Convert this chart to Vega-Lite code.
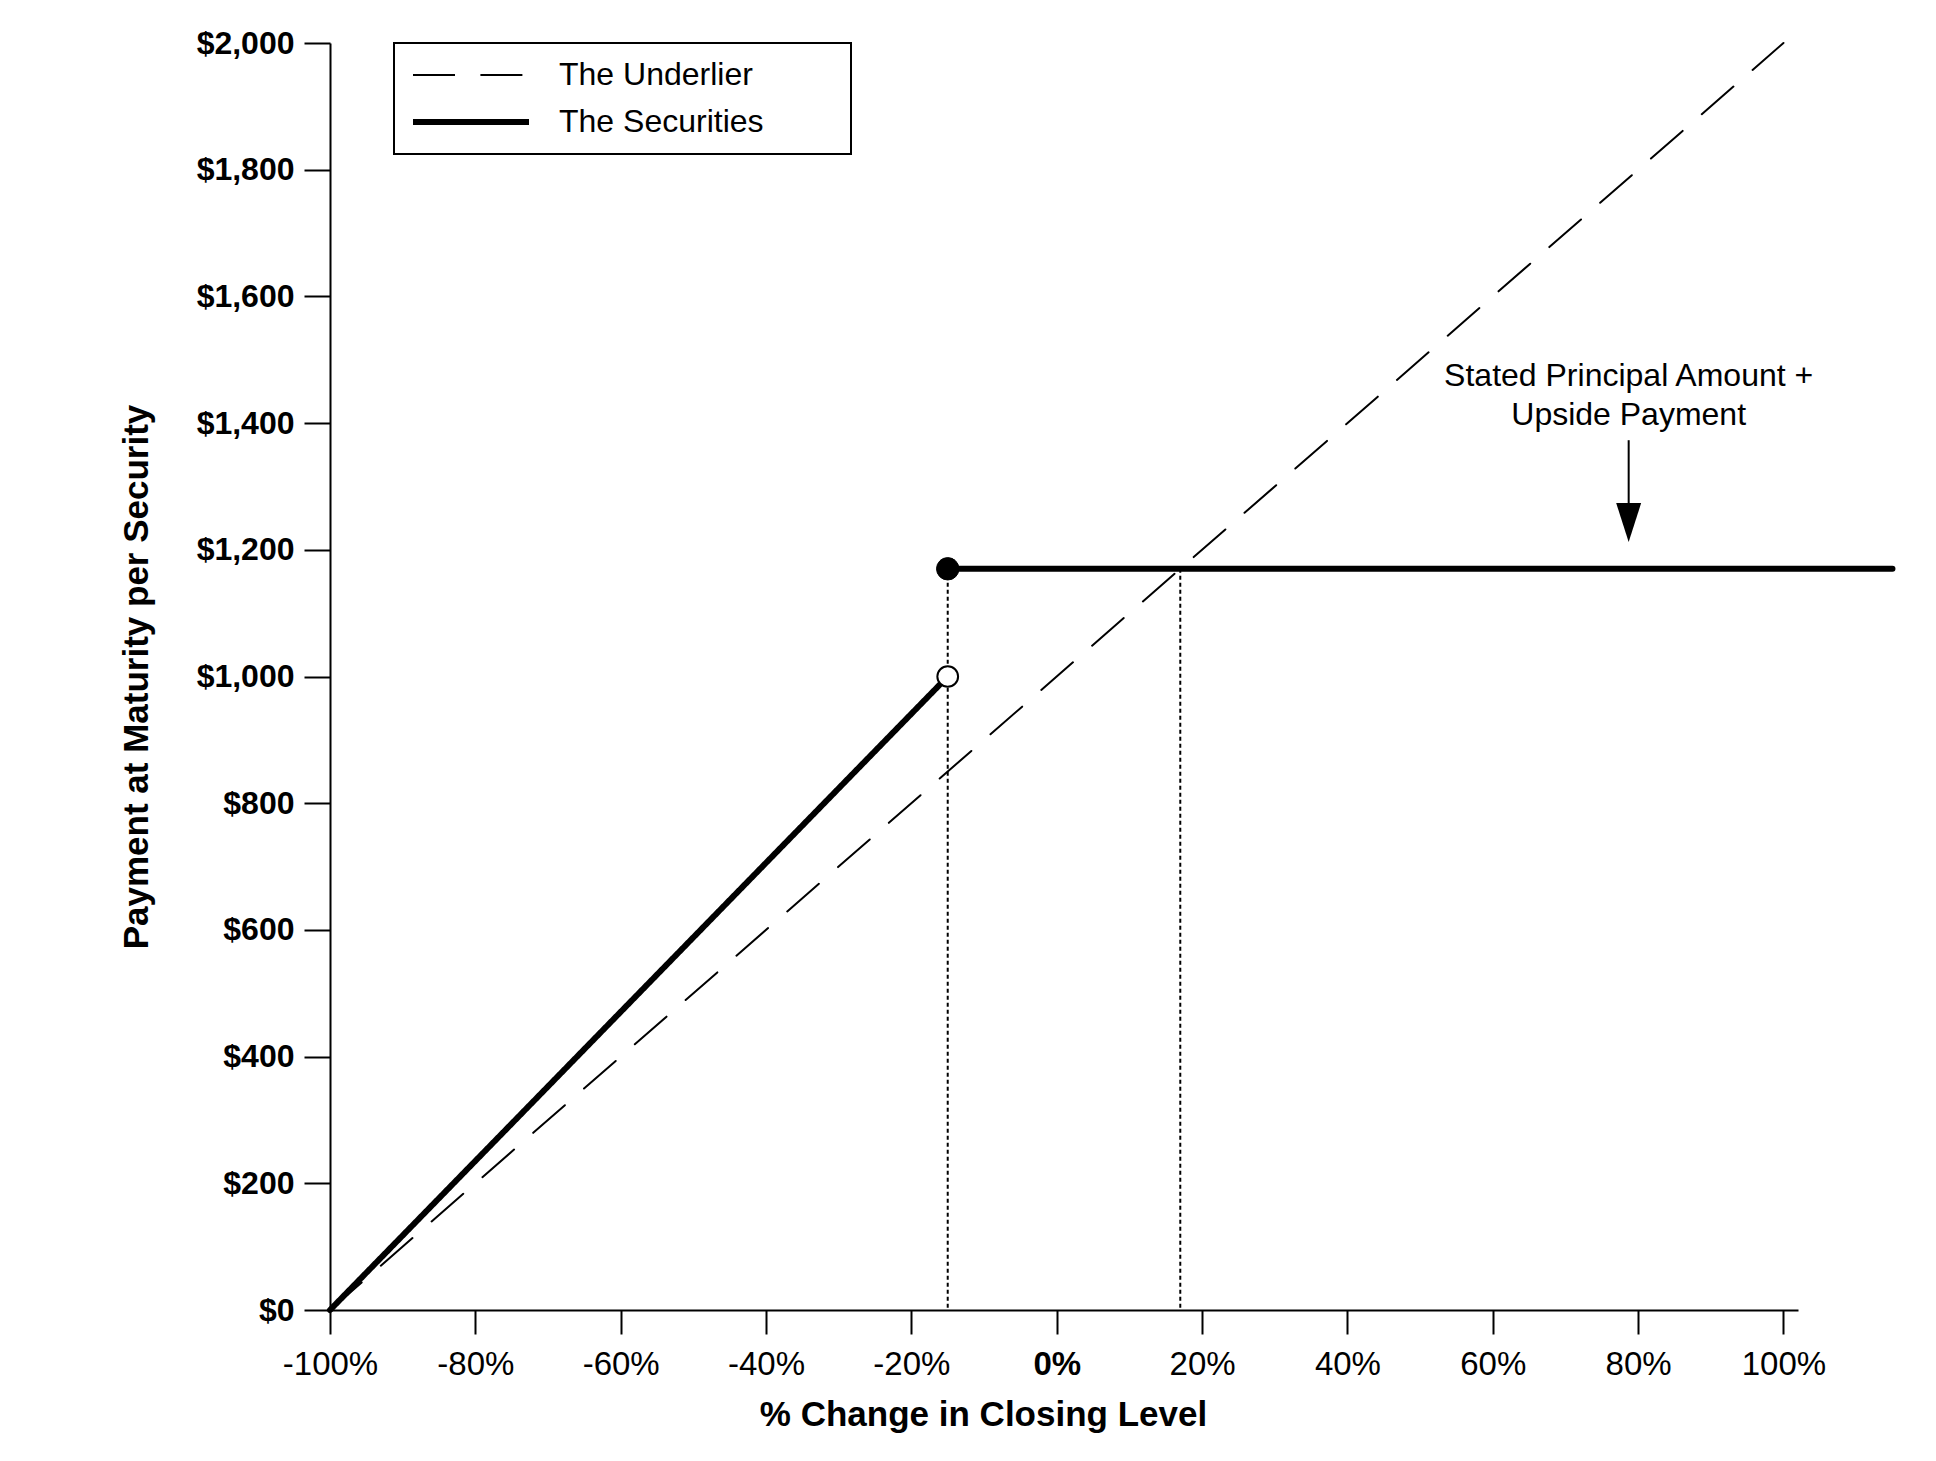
{
  "$schema": "https://vega.github.io/schema/vega-lite/v6.json",
  "width": 1468,
  "height": 1267,
  "autosize": {"type": "none"},
  "padding": {"left": 330, "top": 43, "right": 138, "bottom": 151},
  "background": "white",
  "config": {
    "view": {"stroke": null},
    "font": "Arial, Liberation Sans, sans-serif",
    "axis": {
      "grid": false,
      "domainColor": "black",
      "domainWidth": 2,
      "tickColor": "black",
      "tickWidth": 2,
      "labelColor": "black",
      "titleColor": "black",
      "labelFont": "Arial, Liberation Sans, sans-serif",
      "titleFont": "Arial, Liberation Sans, sans-serif",
      "labelFlush": false,
      "labelOverlap": false,
      "labelBound": false
    },
    "legend": {
      "labelFont": "Arial, Liberation Sans, sans-serif",
      "labelColor": "black",
      "strokeWidth": 2
    }
  },
  "datasets": {
    "lines": [
      {"series": "The Underlier", "seg": "u", "pct": -100, "payment": 0},
      {"series": "The Underlier", "seg": "u", "pct": 100, "payment": 2000},
      {"series": "The Securities", "seg": "s1", "pct": -100, "payment": 0},
      {"series": "The Securities", "seg": "s1", "pct": -15, "payment": 1000},
      {"series": "The Securities", "seg": "s2", "pct": -15, "payment": 1170},
      {"series": "The Securities", "seg": "s2", "pct": 115, "payment": 1170}
    ],
    "guides": [
      {"pct": -15, "payment": 1170},
      {"pct": 17, "payment": 1170}
    ],
    "markers": [
      {"pct": -15, "payment": 1170, "kind": "closed"},
      {"pct": -15, "payment": 1000, "kind": "open"}
    ],
    "arrow": [
      {"pct": 78.7, "payment": 1373, "end": 1262}
    ],
    "arrowhead": [
      {"pct": 78.7, "payment": 1243}
    ],
    "notes": [
      {"pct": 78.7, "payment": 1475, "text": "Stated Principal Amount +"},
      {"pct": 78.7, "payment": 1413, "text": "Upside Payment"}
    ]
  },
  "encoding": {
    "x": {
      "field": "pct",
      "type": "quantitative",
      "scale": {"domain": [-100, 102], "nice": false, "zero": false},
      "axis": {
        "title": "% Change in Closing Level",
        "values": [-100, -80, -60, -40, -20, 0, 20, 40, 60, 80, 100],
        "labelExpr": "datum.value + '%'",
        "tickSize": 24,
        "labelPadding": 14,
        "labelFontSize": 33,
        "labelFontWeight": {"condition": {"test": "datum.value === 0", "value": "bold"}, "value": "normal"},
        "titleFontSize": 35,
        "titleFontWeight": "bold",
        "titleX": 653,
        "titleY": 87,
        "titleBaseline": "top",
        "titleAlign": "center"
      }
    },
    "y": {
      "field": "payment",
      "type": "quantitative",
      "scale": {"domain": [0, 2000], "nice": false},
      "axis": {
        "title": "Payment at Maturity per Security",
        "values": [0, 200, 400, 600, 800, 1000, 1200, 1400, 1600, 1800, 2000],
        "format": "$,d",
        "tickSize": 26,
        "labelPadding": 10,
        "labelFontSize": 32,
        "labelFontWeight": "bold",
        "titleFontSize": 35,
        "titleFontWeight": "bold",
        "titleAngle": -90,
        "titleX": -176,
        "titleY": 633.5,
        "titleBaseline": "bottom",
        "titleAlign": "center"
      }
    }
  },
  "layer": [
    {
      "data": {"name": "guides"},
      "mark": {"type": "rule", "color": "black", "strokeWidth": 2, "strokeDash": [4, 3]},
      "encoding": {"y2": {"datum": 0}}
    },
    {
      "data": {"name": "lines"},
      "mark": {"type": "line", "color": "black", "strokeCap": "round"},
      "encoding": {
        "detail": {"field": "seg"},
        "strokeDash": {
          "field": "series",
          "type": "ordinal",
          "scale": {"domain": ["The Underlier", "The Securities"], "range": [[42, 25.4], [1, 0]]},
          "legend": {
            "title": null,
            "orient": "none",
            "legendX": 64,
            "legendY": 0,
            "symbolType": "stroke",
            "symbolSize": 13456,
            "symbolStrokeColor": "black",
            "clipHeight": 32,
            "labelOffset": 27,
            "labelFontSize": 32,
            "labelLimit": 600,
            "labelExpr": "datum.label + '\u00a0\u00a0\u00a0\u00a0\u00a0\u00a0\u00a0\u00a0\u200b'",
            "rowPadding": 15,
            "padding": 16,
            "strokeColor": "black"
          }
        },
        "strokeWidth": {
          "field": "series",
          "type": "ordinal",
          "scale": {"type": "point", "domain": ["The Underlier", "The Securities"], "range": [2, 6], "padding": 0},
          "legend": {
            "title": null,
            "orient": "none",
            "legendX": 64,
            "legendY": 0,
            "symbolType": "stroke",
            "symbolSize": 13456,
            "symbolStrokeColor": "black",
            "clipHeight": 32,
            "labelOffset": 27,
            "labelFontSize": 32,
            "labelLimit": 600,
            "labelExpr": "datum.label + '\u00a0\u00a0\u00a0\u00a0\u00a0\u00a0\u00a0\u00a0\u200b'",
            "rowPadding": 15,
            "padding": 16,
            "strokeColor": "black"
          }
        }
      }
    },
    {
      "data": {"name": "markers"},
      "transform": [{"filter": "datum.kind === 'closed'"}],
      "mark": {"type": "point", "shape": "circle", "filled": true, "fill": "black", "stroke": "black", "strokeWidth": 1, "size": 500, "opacity": 1}
    },
    {
      "data": {"name": "markers"},
      "transform": [{"filter": "datum.kind === 'open'"}],
      "mark": {"type": "point", "shape": "circle", "filled": true, "fill": "white", "stroke": "black", "strokeWidth": 2, "size": 430, "opacity": 1}
    },
    {
      "data": {"name": "arrow"},
      "mark": {"type": "rule", "color": "black", "strokeWidth": 2},
      "encoding": {"y2": {"field": "end"}}
    },
    {
      "data": {"name": "arrowhead"},
      "mark": {"type": "point", "shape": "M-0.64,-1L0.64,-1L0,1Z", "size": 1521, "filled": true, "fill": "black", "strokeWidth": 0, "opacity": 1}
    },
    {
      "data": {"name": "notes"},
      "mark": {"type": "text", "fontSize": 32, "font": "Arial, Liberation Sans, sans-serif", "align": "center", "baseline": "middle", "color": "black"},
      "encoding": {"text": {"field": "text"}}
    }
  ]
}
